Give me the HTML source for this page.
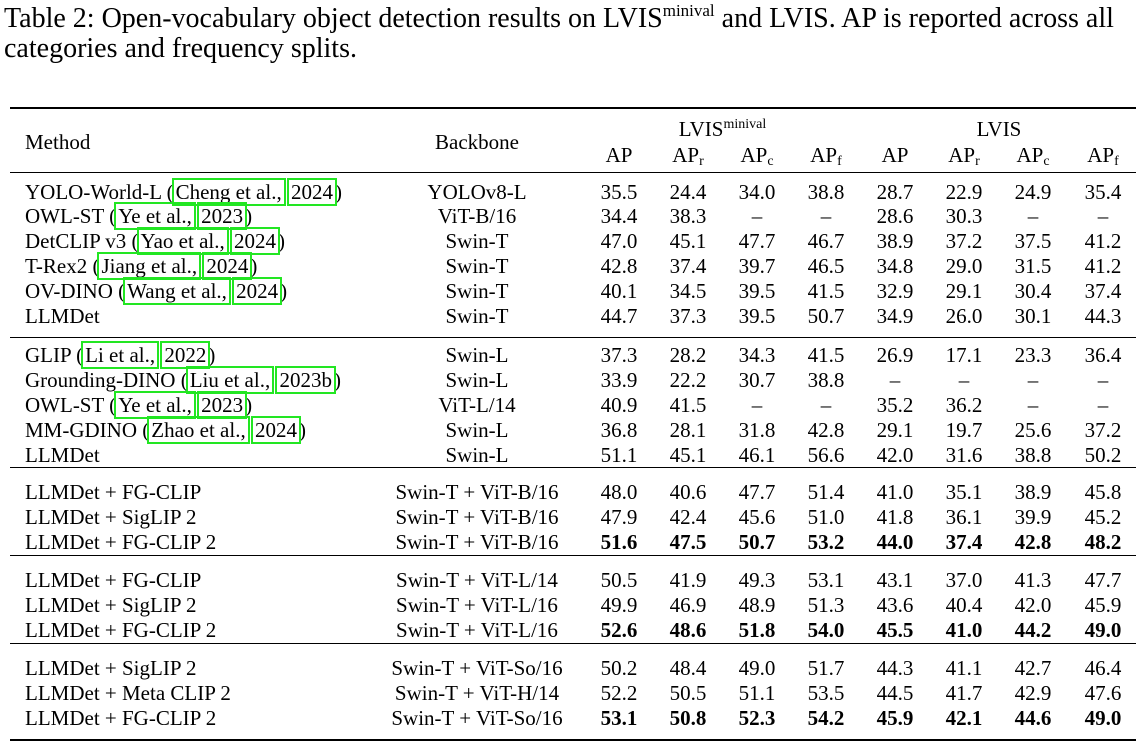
<!DOCTYPE html>
<html><head><meta charset="utf-8"><style>
body{margin:0;background:#fff;width:1142px;height:745px;position:relative;overflow:hidden;font-family:"Liberation Serif","Times New Roman","Nimbus Roman","DejaVu Serif",serif;color:#000}
.cap{position:absolute;left:4px;font-size:28px;line-height:30px;white-space:nowrap;font-family:"Liberation Serif","Times New Roman","DejaVu Serif",serif}
.r{position:absolute;left:0;width:1142px;height:25px;font-size:21px;line-height:25px;font-family:"Liberation Serif","Times New Roman","DejaVu Serif",serif}
.r span{position:absolute;white-space:nowrap}
.m{left:25px}
.b{left:377px;width:200px;text-align:center}
.c{width:70px;text-align:center}
.c1{left:584px}.c2{left:653px}.c3{left:722px}.c4{left:791px}.c5{left:860px}.c6{left:929px}.c7{left:998px}.c8{left:1068px}
.g{outline:2px solid #22e622;outline-offset:0px;position:static!important;padding:0 2px}
.rule{position:absolute;left:10px;width:1126px;background:#000}
sub{font-size:14px;vertical-align:-3px;line-height:0}
sup{font-size:14px;vertical-align:8px;line-height:0}
b{font-weight:bold}
</style></head><body>
<div class="cap" style="top:4px">Table 2: Open-vocabulary object detection results on LVIS<sup style="font-size:17px;vertical-align:11px">minival</sup> and LVIS. AP is reported across all</div>
<div class="cap" style="top:34px">categories and frequency splits.</div>
<div class="rule" style="top:107px;height:2px"></div>
<div class="rule" style="top:172px;height:1px"></div>
<div class="rule" style="top:337px;height:1px"></div>
<div class="rule" style="top:467px;height:1px"></div>
<div class="rule" style="top:555px;height:1px"></div>
<div class="rule" style="top:643px;height:1px"></div>
<div class="rule" style="top:739px;height:2px"></div>

<div class="r" style="top:130px"><span class="m">Method</span><span class="b">Backbone</span></div>
<div class="r" style="top:117px"><span style="left:584px;width:277px;text-align:center">LVIS<sup>minival</sup></span><span style="left:860px;width:278px;text-align:center">LVIS</span></div>
<div class="r" style="top:143px"><span class="c c1">AP</span><span class="c c2">AP<sub>r</sub></span><span class="c c3">AP<sub>c</sub></span><span class="c c4">AP<sub>f</sub></span><span class="c c5">AP</span><span class="c c6">AP<sub>r</sub></span><span class="c c7">AP<sub>c</sub></span><span class="c c8">AP<sub>f</sub></span></div>

<div class="r" style="top:180px"><span class="m">YOLO-World-L (<span class="g">Cheng et al.,</span> <span class="g">2024</span>)</span><span class="b">YOLOv8-L</span><span class="c c1">35.5</span><span class="c c2">24.4</span><span class="c c3">34.0</span><span class="c c4">38.8</span><span class="c c5">28.7</span><span class="c c6">22.9</span><span class="c c7">24.9</span><span class="c c8">35.4</span></div>
<div class="r" style="top:204px"><span class="m">OWL-ST (<span class="g">Ye et al.,</span> <span class="g">2023</span>)</span><span class="b">ViT-B/16</span><span class="c c1">34.4</span><span class="c c2">38.3</span><span class="c c3">–</span><span class="c c4">–</span><span class="c c5">28.6</span><span class="c c6">30.3</span><span class="c c7">–</span><span class="c c8">–</span></div>
<div class="r" style="top:229px"><span class="m">DetCLIP v3 (<span class="g">Yao et al.,</span> <span class="g">2024</span>)</span><span class="b">Swin-T</span><span class="c c1">47.0</span><span class="c c2">45.1</span><span class="c c3">47.7</span><span class="c c4">46.7</span><span class="c c5">38.9</span><span class="c c6">37.2</span><span class="c c7">37.5</span><span class="c c8">41.2</span></div>
<div class="r" style="top:254px"><span class="m">T-Rex2 (<span class="g">Jiang et al.,</span> <span class="g">2024</span>)</span><span class="b">Swin-T</span><span class="c c1">42.8</span><span class="c c2">37.4</span><span class="c c3">39.7</span><span class="c c4">46.5</span><span class="c c5">34.8</span><span class="c c6">29.0</span><span class="c c7">31.5</span><span class="c c8">41.2</span></div>
<div class="r" style="top:279px"><span class="m">OV-DINO (<span class="g">Wang et al.,</span> <span class="g">2024</span>)</span><span class="b">Swin-T</span><span class="c c1">40.1</span><span class="c c2">34.5</span><span class="c c3">39.5</span><span class="c c4">41.5</span><span class="c c5">32.9</span><span class="c c6">29.1</span><span class="c c7">30.4</span><span class="c c8">37.4</span></div>
<div class="r" style="top:304px"><span class="m">LLMDet</span><span class="b">Swin-T</span><span class="c c1">44.7</span><span class="c c2">37.3</span><span class="c c3">39.5</span><span class="c c4">50.7</span><span class="c c5">34.9</span><span class="c c6">26.0</span><span class="c c7">30.1</span><span class="c c8">44.3</span></div>

<div class="r" style="top:343px"><span class="m">GLIP (<span class="g">Li et al.,</span> <span class="g">2022</span>)</span><span class="b">Swin-L</span><span class="c c1">37.3</span><span class="c c2">28.2</span><span class="c c3">34.3</span><span class="c c4">41.5</span><span class="c c5">26.9</span><span class="c c6">17.1</span><span class="c c7">23.3</span><span class="c c8">36.4</span></div>
<div class="r" style="top:368px"><span class="m">Grounding-DINO (<span class="g">Liu et al.,</span> <span class="g">2023b</span>)</span><span class="b">Swin-L</span><span class="c c1">33.9</span><span class="c c2">22.2</span><span class="c c3">30.7</span><span class="c c4">38.8</span><span class="c c5">–</span><span class="c c6">–</span><span class="c c7">–</span><span class="c c8">–</span></div>
<div class="r" style="top:393px"><span class="m">OWL-ST (<span class="g">Ye et al.,</span> <span class="g">2023</span>)</span><span class="b">ViT-L/14</span><span class="c c1">40.9</span><span class="c c2">41.5</span><span class="c c3">–</span><span class="c c4">–</span><span class="c c5">35.2</span><span class="c c6">36.2</span><span class="c c7">–</span><span class="c c8">–</span></div>
<div class="r" style="top:418px"><span class="m">MM-GDINO (<span class="g">Zhao et al.,</span> <span class="g">2024</span>)</span><span class="b">Swin-L</span><span class="c c1">36.8</span><span class="c c2">28.1</span><span class="c c3">31.8</span><span class="c c4">42.8</span><span class="c c5">29.1</span><span class="c c6">19.7</span><span class="c c7">25.6</span><span class="c c8">37.2</span></div>
<div class="r" style="top:443px"><span class="m">LLMDet</span><span class="b">Swin-L</span><span class="c c1">51.1</span><span class="c c2">45.1</span><span class="c c3">46.1</span><span class="c c4">56.6</span><span class="c c5">42.0</span><span class="c c6">31.6</span><span class="c c7">38.8</span><span class="c c8">50.2</span></div>

<div class="r" style="top:480px"><span class="m">LLMDet + FG-CLIP</span><span class="b">Swin-T + ViT-B/16</span><span class="c c1">48.0</span><span class="c c2">40.6</span><span class="c c3">47.7</span><span class="c c4">51.4</span><span class="c c5">41.0</span><span class="c c6">35.1</span><span class="c c7">38.9</span><span class="c c8">45.8</span></div>
<div class="r" style="top:505px"><span class="m">LLMDet + SigLIP 2</span><span class="b">Swin-T + ViT-B/16</span><span class="c c1">47.9</span><span class="c c2">42.4</span><span class="c c3">45.6</span><span class="c c4">51.0</span><span class="c c5">41.8</span><span class="c c6">36.1</span><span class="c c7">39.9</span><span class="c c8">45.2</span></div>
<div class="r" style="top:530px"><span class="m">LLMDet + FG-CLIP 2</span><span class="b">Swin-T + ViT-B/16</span><span class="c c1"><b>51.6</b></span><span class="c c2"><b>47.5</b></span><span class="c c3"><b>50.7</b></span><span class="c c4"><b>53.2</b></span><span class="c c5"><b>44.0</b></span><span class="c c6"><b>37.4</b></span><span class="c c7"><b>42.8</b></span><span class="c c8"><b>48.2</b></span></div>

<div class="r" style="top:568px"><span class="m">LLMDet + FG-CLIP</span><span class="b">Swin-T + ViT-L/14</span><span class="c c1">50.5</span><span class="c c2">41.9</span><span class="c c3">49.3</span><span class="c c4">53.1</span><span class="c c5">43.1</span><span class="c c6">37.0</span><span class="c c7">41.3</span><span class="c c8">47.7</span></div>
<div class="r" style="top:593px"><span class="m">LLMDet + SigLIP 2</span><span class="b">Swin-T + ViT-L/16</span><span class="c c1">49.9</span><span class="c c2">46.9</span><span class="c c3">48.9</span><span class="c c4">51.3</span><span class="c c5">43.6</span><span class="c c6">40.4</span><span class="c c7">42.0</span><span class="c c8">45.9</span></div>
<div class="r" style="top:618px"><span class="m">LLMDet + FG-CLIP 2</span><span class="b">Swin-T + ViT-L/16</span><span class="c c1"><b>52.6</b></span><span class="c c2"><b>48.6</b></span><span class="c c3"><b>51.8</b></span><span class="c c4"><b>54.0</b></span><span class="c c5"><b>45.5</b></span><span class="c c6"><b>41.0</b></span><span class="c c7"><b>44.2</b></span><span class="c c8"><b>49.0</b></span></div>

<div class="r" style="top:656px"><span class="m">LLMDet + SigLIP 2</span><span class="b">Swin-T + ViT-So/16</span><span class="c c1">50.2</span><span class="c c2">48.4</span><span class="c c3">49.0</span><span class="c c4">51.7</span><span class="c c5">44.3</span><span class="c c6">41.1</span><span class="c c7">42.7</span><span class="c c8">46.4</span></div>
<div class="r" style="top:681px"><span class="m">LLMDet + Meta CLIP 2</span><span class="b">Swin-T + ViT-H/14</span><span class="c c1">52.2</span><span class="c c2">50.5</span><span class="c c3">51.1</span><span class="c c4">53.5</span><span class="c c5">44.5</span><span class="c c6">41.7</span><span class="c c7">42.9</span><span class="c c8">47.6</span></div>
<div class="r" style="top:706px"><span class="m">LLMDet + FG-CLIP 2</span><span class="b">Swin-T + ViT-So/16</span><span class="c c1"><b>53.1</b></span><span class="c c2"><b>50.8</b></span><span class="c c3"><b>52.3</b></span><span class="c c4"><b>54.2</b></span><span class="c c5"><b>45.9</b></span><span class="c c6"><b>42.1</b></span><span class="c c7"><b>44.6</b></span><span class="c c8"><b>49.0</b></span></div>
</body></html>
